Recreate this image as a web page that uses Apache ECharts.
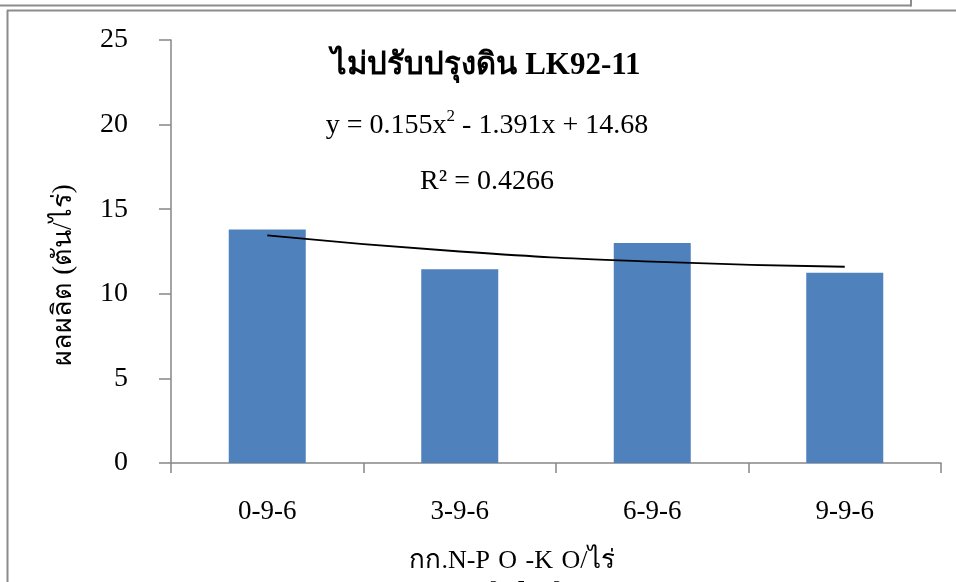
<!DOCTYPE html>
<html>
<head>
<meta charset="utf-8">
<script src="https://cdn.jsdelivr.net/npm/echarts@6/dist/echarts.min.js"></script>
<style>
html,body{margin:0;padding:0;background:#fff;}
#chart{width:956px;height:582px;}
</style>
</head>
<body>
<div id="chart"></div>
<script>
var categories = ['0-9-6', '3-9-6', '6-9-6', '9-9-6'];
var yieldValues = [13.8, 11.45, 13.0, 11.25];
var trendValues = [13.45, 12.5, 11.9, 11.6];
var yTicks = {min: 0, max: 25, interval: 5};

var serif = '"Liberation Serif", "Times New Roman", serif';
var chart = echarts.init(document.getElementById('chart'));
chart.setOption({
  backgroundColor: '#ffffff',
  animation: false,
  grid: {left: 171, right: 15, top: 40, bottom: 119, containLabel: false},
  xAxis: {
    type: 'category',
    data: categories,
    boundaryGap: true,
    axisLine: {show: true, lineStyle: {color: '#868686', width: 1.5}},
    axisTick: {show: true, length: 10, inside: false, alignWithLabel: false, lineStyle: {color: '#868686', width: 1.5}},
    axisLabel: {fontFamily: serif, fontSize: 27, color: '#000', margin: 35},
    splitLine: {show: false}
  },
  yAxis: {
    type: 'value',
    min: yTicks.min, max: yTicks.max, interval: yTicks.interval,
    axisLine: {show: true, lineStyle: {color: '#868686', width: 1.5}},
    axisTick: {show: true, length: 12, inside: false, lineStyle: {color: '#868686', width: 1.5}},
    axisLabel: {fontFamily: serif, fontSize: 28, color: '#000', margin: 43},
    splitLine: {show: false}
  },
  series: [
    {
      type: 'bar',
      data: yieldValues,
      barCategoryGap: '60%',
      itemStyle: {color: '#4F81BD'}
    },
    {
      type: 'line',
      data: trendValues,
      smooth: true,
      symbol: 'none',
      lineStyle: {color: '#000', width: 1.8}
    }
  ],
  graphic: [
    {type: 'line', shape: {x1: 0, y1: 5.5, x2: 911, y2: 5.5}, style: {stroke: '#8c8c8c', lineWidth: 2}},
    {type: 'line', shape: {x1: 911, y1: 0, x2: 911, y2: 6.5}, style: {stroke: '#8c8c8c', lineWidth: 2}},
    {type: 'line', shape: {x1: 7, y1: 10.5, x2: 956, y2: 10.5}, style: {stroke: '#8c8c8c', lineWidth: 2}},
    {type: 'line', shape: {x1: 7.5, y1: 10, x2: 7.5, y2: 582}, style: {stroke: '#8c8c8c', lineWidth: 2}},
    {type: 'text', x: 486, y: 66, style: {
      text: 'ไม่ปรับปรุงดิน LK92-11', font: 'bold 31px ' + serif, fill: '#000',
      textAlign: 'center', textVerticalAlign: 'middle'}},
    {type: 'text', x: 487, y: 124, style: {
      text: '{m|y = 0.155x}{s|2}{m| - 1.391x + 14.68}',
      textAlign: 'center', textVerticalAlign: 'middle',
      rich: {
        m: {fontFamily: serif, fontSize: 28, color: '#000', lineHeight: 32, verticalAlign: 'bottom'},
        s: {fontFamily: serif, fontSize: 17, color: '#000', lineHeight: 18, verticalAlign: 'top'}
      }}},
    {type: 'text', x: 487, y: 182, style: {
      text: 'R² = 0.4266', font: '28px ' + serif, fill: '#000',
      textAlign: 'center', textVerticalAlign: 'middle'}},
    {type: 'text', x: 64, y: 275, rotation: Math.PI / 2, style: {
      text: 'ผลผลิต (ตัน/ไร่)', font: '27px ' + serif, fill: '#000',
      textAlign: 'center', textVerticalAlign: 'middle'}},
    {type: 'text', x: 512, y: 548, style: {
      text: '{m|กก.N-P}{s|2}{m|O}{s|5}{m|-K}{s|2}{m|O/ไร่}',
      textAlign: 'center', textVerticalAlign: 'top',
      rich: {
        m: {fontFamily: serif, fontSize: 26, color: '#000', lineHeight: 30, verticalAlign: 'top'},
        s: {fontFamily: serif, fontSize: 17, color: '#000', padding: [31, 0, 0, 0], verticalAlign: 'bottom'}
      }}}
  ]
});
</script>
</body>
</html>
